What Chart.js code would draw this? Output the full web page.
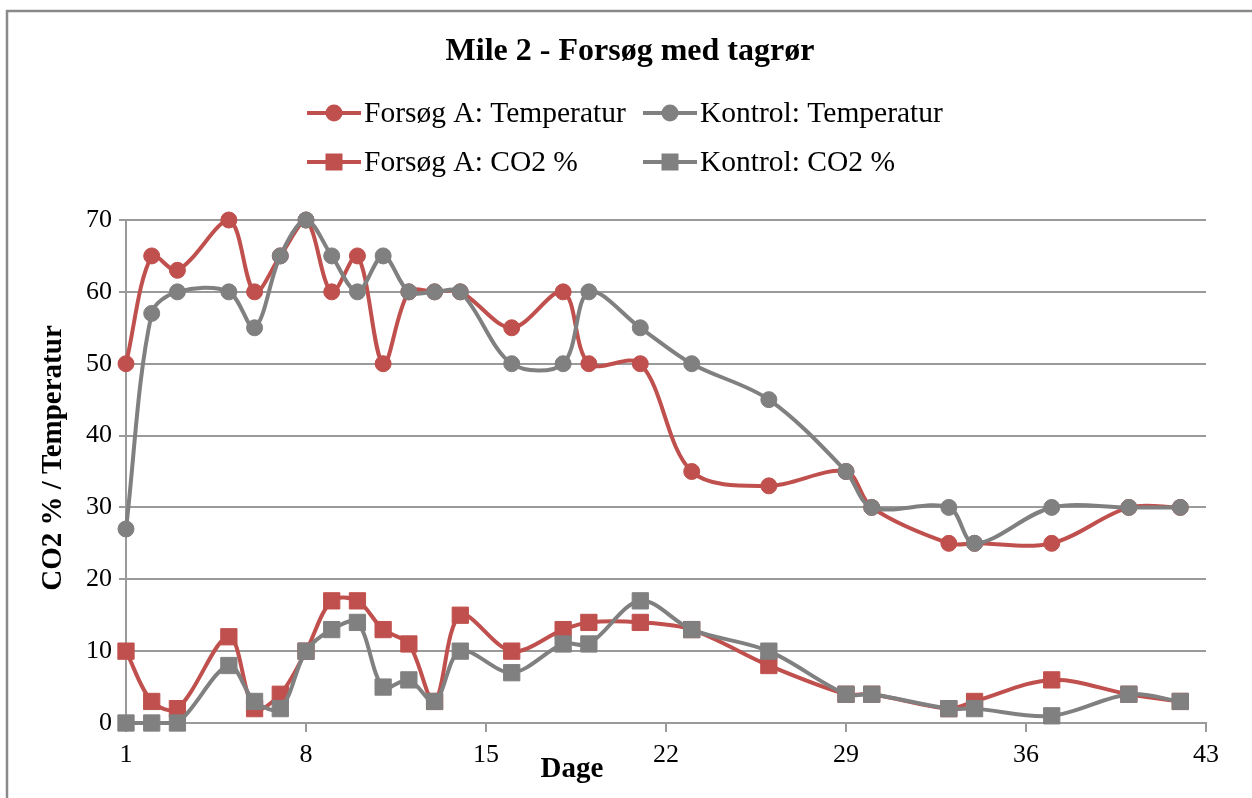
<!DOCTYPE html>
<html>
<head>
<meta charset="utf-8">
<script src="https://cdn.jsdelivr.net/npm/chart.js@4/dist/chart.umd.min.js"></script>
<style>
  html, body { margin: 0; padding: 0; background: #fff; }
  #wrap { width: 1252px; height: 798px; position: relative; }
</style>
</head>
<body>
<div id="wrap"><canvas id="c" width="1252" height="798"></canvas></div>
<script>
// Measurement days (Dage)
const days = [1, 2, 3, 5, 6, 7, 8, 9, 10, 11, 12, 13, 14, 16, 18, 19, 21, 23, 26, 29, 30, 33, 34, 37, 40, 42];

// Temperature series
const forsoegTemp = [50, 65, 63, 70, 60, 65, 70, 60, 65, 50, 60, 60, 60, 55, 60, 50, 50, 35, 33, 35, 30, 25, 25, 25, 30, 30];
const kontrolTemp = [27, 57, 60, 60, 55, 65, 70, 65, 60, 65, 60, 60, 60, 50, 50, 60, 55, 50, 45, 35, 30, 30, 25, 30, 30, 30];

// CO2 % series
const forsoegCO2 = [10, 3, 2, 12, 2, 4, 10, 17, 17, 13, 11, 3, 15, 10, 13, 14, 14, 13, 8, 4, 4, 2, 3, 6, 4, 3];
const kontrolCO2 = [0, 0, 0, 8, 3, 2, 10, 13, 14, 5, 6, 3, 10, 7, 11, 11, 17, 13, 10, 4, 4, 2, 2, 1, 4, 3];

// Axis ticks
const xTickStart = 1, xTickEnd = 43, xTickStep = 7;
const yTickMin = 0, yTickMax = 70, yTickStep = 10;

const chartTitle = 'Mile 2 - Forsøg med tagrør';
const xTitle = 'Dage';
const yTitle = 'CO2 % / Temperatur';

const RED = '#C0504D';
const GRAY = '#808080';
const SERIF = '"Liberation Serif", "Times New Roman", serif';

const toPoints = (vals) => days.map((d, i) => ({ x: d, y: vals[i] }));

function series(label, vals, color, style, radius) {
  return {
    label,
    data: toPoints(vals),
    borderColor: color,
    backgroundColor: color,
    borderWidth: 4,
    pointStyle: style,
    pointRadius: radius,
    pointHoverRadius: radius,
    pointBackgroundColor: color,
    pointBorderColor: color,
    pointBorderWidth: 1,
    tension: 0.33,
    clip: false,
    fill: false
  };
}

// Legend entries in display order, positioned in two rows of two columns
const legendItems = [
  { label: 'Forsøg A: Temperatur', color: RED, style: 'circle', x: 307, y: 113 },
  { label: 'Kontrol: Temperatur', color: GRAY, style: 'circle', x: 643, y: 113 },
  { label: 'Forsøg A: CO2 %', color: RED, style: 'rect', x: 307, y: 162 },
  { label: 'Kontrol: CO2 %', color: GRAY, style: 'rect', x: 643, y: 162 }
];

const decorations = {
  id: 'decorations',
  beforeDraw(chart) {
    const ctx = chart.ctx;
    ctx.save();
    ctx.fillStyle = '#fff';
    ctx.fillRect(0, 0, chart.width, chart.height);
    // outer frame (top and left edges)
    ctx.strokeStyle = '#8a8a8a';
    ctx.lineWidth = 2.5;
    ctx.beginPath();
    ctx.moveTo(7, chart.height);
    ctx.lineTo(7, 11);
    ctx.lineTo(chart.width, 11);
    ctx.stroke();
    ctx.restore();
  },
  afterDraw(chart) {
    const ctx = chart.ctx;
    ctx.save();
    ctx.fillStyle = '#000';

    // chart title
    ctx.font = 'bold 32px ' + SERIF;
    ctx.textAlign = 'center';
    ctx.textBaseline = 'middle';
    ctx.fillText(chartTitle, 630, 52);

    // legend
    ctx.font = '29.5px ' + SERIF;
    ctx.textAlign = 'left';
    legendItems.forEach(it => {
      ctx.strokeStyle = it.color;
      ctx.fillStyle = it.color;
      ctx.lineWidth = 4;
      ctx.beginPath();
      ctx.moveTo(it.x, it.y);
      ctx.lineTo(it.x + 54, it.y);
      ctx.stroke();
      const cx = it.x + 27;
      if (it.style === 'circle') {
        ctx.beginPath();
        ctx.arc(cx, it.y, 8.5, 0, Math.PI * 2);
        ctx.fill();
      } else {
        ctx.fillRect(cx - 8.5, it.y - 8.5, 17, 17);
      }
      ctx.fillStyle = '#000';
      ctx.fillText(it.label, it.x + 57, it.y + 1);
    });

    // axis titles
    ctx.font = 'bold 29px ' + SERIF;
    ctx.textAlign = 'center';
    ctx.textBaseline = 'alphabetic';
    ctx.fillText(xTitle, 572, 777);

    ctx.translate(61, 458);
    ctx.rotate(-Math.PI / 2);
    ctx.fillText(yTitle, 0, 0);
    ctx.restore();
  }
};

new Chart(document.getElementById('c'), {
  type: 'line',
  data: {
    datasets: [
      series('Kontrol: CO2 %', kontrolCO2, GRAY, 'rect', 11.5),
      series('Kontrol: Temperatur', kontrolTemp, GRAY, 'circle', 8),
      series('Forsøg A: CO2 %', forsoegCO2, RED, 'rect', 11.5),
      series('Forsøg A: Temperatur', forsoegTemp, RED, 'circle', 8)
    ]
  },
  options: {
    responsive: false,
    animation: false,
    events: [],
    layout: { padding: { top: 220, right: 46, left: 0, bottom: 0 } },
    plugins: {
      legend: { display: false },
      title: { display: false },
      tooltip: { enabled: false }
    },
    scales: {
      x: {
        type: 'linear',
        min: xTickStart,
        max: xTickEnd,
        afterFit(scale) { scale.height = 75; },
        ticks: {
          stepSize: xTickStep,
          autoSkip: false,
          maxRotation: 0,
          padding: 8,
          color: '#000',
          font: { family: SERIF, size: 26 }
        },
        grid: {
          drawOnChartArea: false,
          drawTicks: true,
          tickLength: 9,
          color: '#9a9a9a',
          lineWidth: 2
        },
        border: { display: true, color: '#9a9a9a', width: 2 }
      },
      y: {
        min: yTickMin,
        max: yTickMax,
        afterFit(scale) { scale.width = 126; },
        ticks: {
          stepSize: yTickStep,
          padding: 7,
          color: '#000',
          font: { family: SERIF, size: 26 }
        },
        grid: {
          drawOnChartArea: true,
          drawTicks: true,
          tickLength: 7,
          color: '#9a9a9a',
          lineWidth: 2
        },
        border: { display: true, color: '#9a9a9a', width: 2 }
      }
    }
  },
  plugins: [decorations]
});
</script>
</body>
</html>
